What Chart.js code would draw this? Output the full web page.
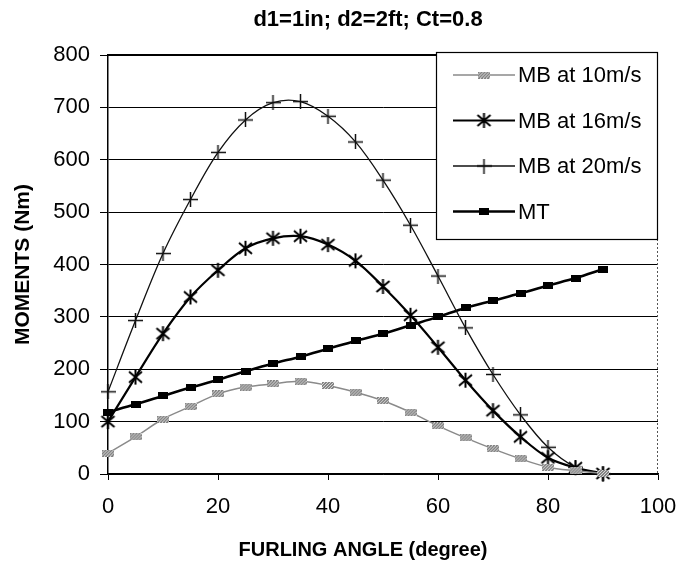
<!DOCTYPE html>
<html>
<head>
<meta charset="utf-8">
<script src="https://cdn.jsdelivr.net/npm/chart.js@4.4.1/dist/chart.umd.min.js"></script>
<style>
  html, body { margin: 0; padding: 0; background: #fff; }
</style>
</head>
<body>
<canvas id="chart" width="678" height="567"></canvas>
<script>
// furling angle (degree)
const angles = [0, 5, 10, 15, 20, 25, 30, 35, 40, 45, 50, 55, 60, 65, 70, 75, 80, 85, 90]
// moments (Nm)
const mb10 = [40, 71, 105, 129, 153, 166, 172, 177, 169, 156, 140, 118, 92, 69, 48, 29, 13, 6, 1]
const mb16 = [100, 185, 268, 338, 389, 431, 450, 454, 438, 407, 358, 303, 242, 179, 121, 71, 31, 12, 1]
const mb20 = [157, 293, 421, 524, 614, 676, 709, 711, 683, 634, 561, 475, 378, 279, 190, 113, 51, 13, 0]
const mt = [118, 133, 149, 165, 180, 196, 211, 224, 239, 254, 268, 284, 300, 317, 331, 345, 360, 374, 391]

const seriesNames = ['MB at 10m/s', 'MB at 16m/s', 'MB at 20m/s', 'MT']
const xTicks = [0, 20, 40, 60, 80, 100]
const yTicks = [0, 100, 200, 300, 400, 500, 600, 700, 800]

const FONT = "'Liberation Sans', Arial, sans-serif"
Chart.defaults.font.family = FONT
Chart.defaults.color = '#000'

function marker(w, h, draw) {
  const c = document.createElement('canvas')
  c.width = w
  c.height = h
  draw(c.getContext('2d'), w, h)
  return c
}

const hatchBox = marker(12, 7, (g, w, h) => {
  g.fillStyle = '#858585'
  g.fillRect(0, 0, w, h)
  g.strokeStyle = '#d6d6d6'
  g.lineWidth = 1
  for (let i = -h; i < w; i += 3) {
    g.beginPath()
    g.moveTo(i, h)
    g.lineTo(i + h, 0)
    g.stroke()
  }
})

const asterisk = marker(17, 17, (g) => {
  g.strokeStyle = '#000'
  g.lineWidth = 2
  g.beginPath()
  g.moveTo(8.5, 1); g.lineTo(8.5, 16)
  g.moveTo(2, 3); g.lineTo(15, 14)
  g.moveTo(15, 3); g.lineTo(2, 14)
  g.stroke()
})

const plus = marker(15, 15, (g) => {
  g.strokeStyle = '#111'
  g.lineWidth = 1.5
  g.beginPath()
  g.moveTo(7.5, 0); g.lineTo(7.5, 15)
  g.moveTo(0, 7.5); g.lineTo(15, 7.5)
  g.stroke()
})

const block = marker(10, 7, (g, w, h) => {
  g.fillStyle = '#000'
  g.fillRect(0, 0, w, h)
})

function points(ys) {
  return ys.map((y, i) => ({ x: angles[i], y }))
}

const datasets = [
  { label: seriesNames[0], data: points(mb10), borderColor: '#8a8a8a', borderWidth: 1.5, pointStyle: hatchBox },
  { label: seriesNames[1], data: points(mb16), borderColor: '#000', borderWidth: 2.2, pointStyle: asterisk },
  { label: seriesNames[2], data: points(mb20), borderColor: '#111', borderWidth: 1.3, pointStyle: plus },
  { label: seriesNames[3], data: points(mt), borderColor: '#000', borderWidth: 2.6, pointStyle: block }
].map(d => ({ ...d, pointRadius: 5, tension: 0.35, clip: false, fill: false }))

const frame = {
  id: 'frame',
  afterDatasetsDraw(chart) {
    const { ctx, chartArea: a } = chart
    ctx.save()
    // top and right edges of the plot
    ctx.strokeStyle = '#000'
    ctx.lineWidth = 2
    ctx.beginPath()
    ctx.moveTo(a.left, a.top)
    ctx.lineTo(a.right, a.top)
    ctx.stroke()
    ctx.strokeStyle = '#555'
    ctx.lineWidth = 1
    ctx.setLineDash([2, 2])
    ctx.beginPath()
    ctx.moveTo(a.right - 0.5, a.top)
    ctx.lineTo(a.right - 0.5, a.bottom)
    ctx.stroke()
    ctx.setLineDash([])

    // legend box
    const bx = 436, by = 52, bw = 222, bh = 188
    ctx.fillStyle = '#fff'
    ctx.fillRect(bx, by, bw, bh)
    ctx.strokeStyle = '#000'
    ctx.lineWidth = 1.2
    ctx.strokeRect(bx + 0.5, by + 0.5, bw - 1, bh - 1)
    ctx.font = '22px ' + FONT
    ctx.textBaseline = 'middle'
    ctx.textAlign = 'left'
    chart.data.datasets.forEach((ds, i) => {
      const y = 75 + i * 45.5
      ctx.strokeStyle = ds.borderColor
      ctx.lineWidth = ds.borderWidth
      ctx.beginPath()
      ctx.moveTo(453, y)
      ctx.lineTo(515, y)
      ctx.stroke()
      const p = ds.pointStyle
      ctx.drawImage(p, 484 - p.width / 2, y - p.height / 2)
      ctx.fillStyle = '#000'
      ctx.fillText(ds.label, 518, y + 1)
    })

    // chart title and x axis title
    ctx.textAlign = 'center'
    ctx.font = 'bold 22px ' + FONT
    ctx.fillText('d1=1in; d2=2ft; Ct=0.8', 368, 20)
    ctx.font = 'bold 20px ' + FONT
    ctx.fillText('FURLING ANGLE (degree)', 363, 550)
    ctx.restore()
  }
}

new Chart(document.getElementById('chart'), {
  type: 'line',
  data: { datasets },
  plugins: [frame],
  options: {
    responsive: false,
    animation: false,
    layout: { padding: { top: 55, right: 20, left: 0, bottom: 0 } },
    scales: {
      x: {
        type: 'linear',
        min: 0,
        max: 100,
        afterBuildTicks(scale) { scale.ticks = xTicks.map(v => ({ value: v })) },
        afterFit(scale) {
          scale.height = 93
          scale.paddingLeft = 0
          scale.paddingRight = 0
        },
        grid: { drawOnChartArea: false, drawTicks: true, tickLength: 6, color: '#000' },
        border: { color: '#000', width: 1.5 },
        ticks: { font: { size: 22 }, padding: 14, maxRotation: 0 }
      },
      y: {
        min: 0,
        max: 800,
        afterBuildTicks(scale) { scale.ticks = yTicks.map(v => ({ value: v })) },
        afterFit(scale) { scale.width = 108 },
        grid: { color: '#000', lineWidth: 1, tickLength: 8 },
        border: { color: '#000', width: 1.5 },
        ticks: { font: { size: 22 }, padding: 10 },
        title: {
          display: true,
          text: 'MOMENTS (Nm)',
          font: { size: 21, weight: 'bold' },
          padding: { top: 11, bottom: 0 }
        }
      }
    },
    plugins: {
      legend: { display: false },
      tooltip: { enabled: false }
    }
  }
})
</script>
</body>
</html>
